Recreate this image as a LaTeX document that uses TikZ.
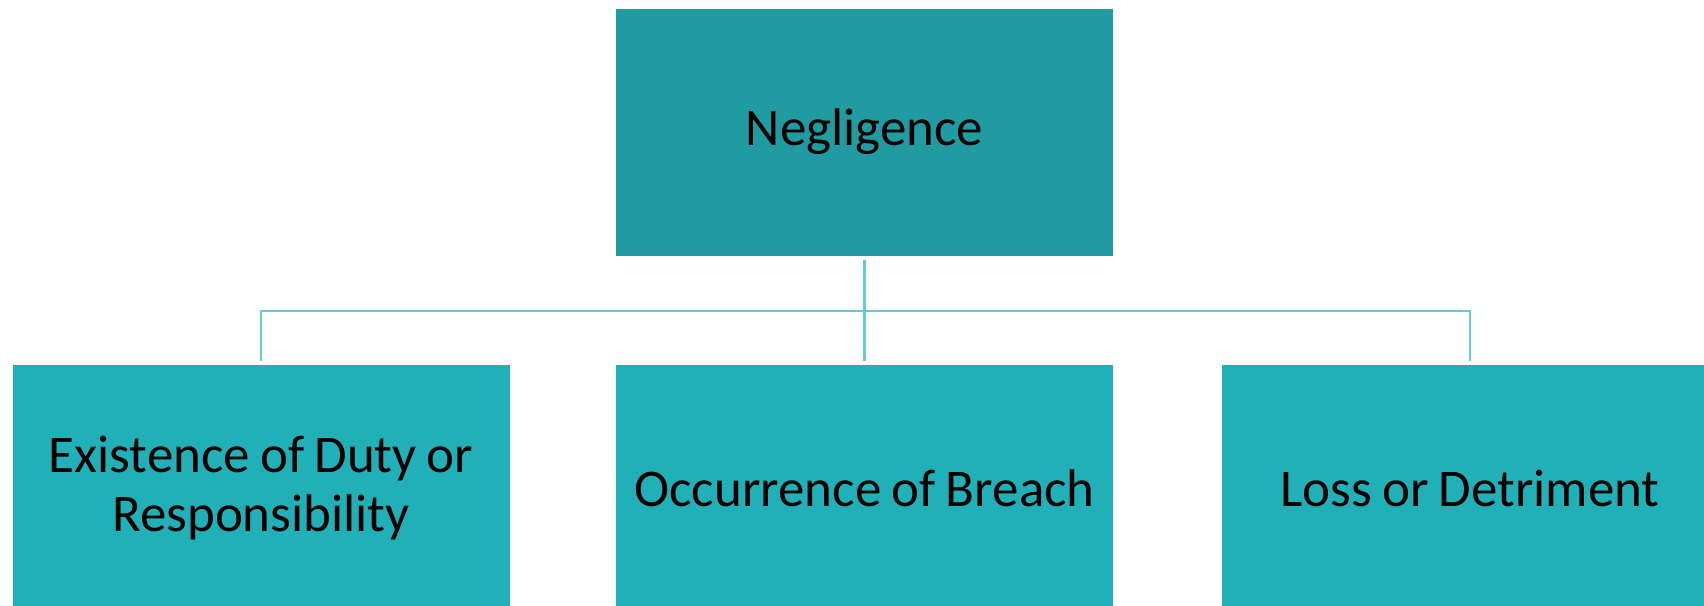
\documentclass[tikz,border=0pt]{standalone}
\usepackage{fontspec}
\setmainfont{Carlito}[WordSpace={0.85,0,0}]
\definecolor{topfill}{HTML}{1F9BA1}
\definecolor{boxfill}{HTML}{22B0B8}
\definecolor{linecol}{HTML}{62CCD2}
\begin{document}
\begin{tikzpicture}[x=1pt,y=-1pt,
  boxtext/.style={text=black, align=center, font=\fontsize{53}{59}\selectfont},
  topbox/.style={rectangle, fill=topfill, minimum width=497pt, minimum height=247pt, inner sep=0pt, boxtext},
  childbox/.style={rectangle, fill=boxfill, minimum width=497pt, minimum height=246pt, inner sep=0pt, boxtext},
  conn/.style={draw=linecol, line width=2.9pt, shorten >=4pt, shorten <=4pt}]
\useasboundingbox (0,0) rectangle (1704,605);
\begin{scope}
\clip (0,0) rectangle (1704,605);
\node[topbox] (top) at (864.5,132) {\raisebox{-5pt}{Negligence}};
\node[childbox] (b1) at (261,488) {Existence of Duty or\\Responsibility};
\node[childbox] (b2) at (864.5,488) {Occurrence of Breach};
\node[childbox] (b3) at (1470,488) {Loss or Detriment};
\end{scope}
\coordinate (bus) at (0,311);
\draw[conn] (top.south) -- (b2.north);
\draw[conn] (b1.north) -- (b1.north |- bus) -- (b3.north |- bus) -- (b3.north);
\end{tikzpicture}
\end{document}
